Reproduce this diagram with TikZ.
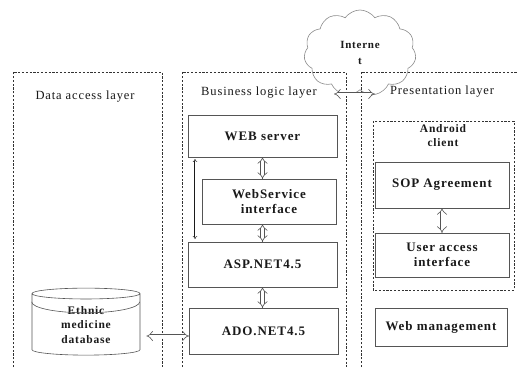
\documentclass[tikz,border=0pt]{standalone}
\usepackage{fontspec}
\setmainfont{Liberation Serif}
\usetikzlibrary{arrows.meta,positioning,calc,shapes.geometric,shapes.symbols}
\definecolor{archInk}{HTML}{1A1A1A}
\definecolor{archEdge}{HTML}{555555}
\definecolor{archDash}{HTML}{333333}
\definecolor{archCloud}{HTML}{8C8C8C}
% spaced-out lettering used for every label
\newcommand{\wide}{\addfontfeatures{LetterSpace=7}}
\tikzset{
  modbox/.style={draw=archEdge, line width=0.8pt, align=center, inner sep=2pt, outer sep=0pt,
                 font=\fontsize{13}{15.5}\selectfont\bfseries\wide, text=archInk},
  layerframe/.style={draw=archDash, dash pattern=on 2.2pt off 1.6pt, line width=0.6pt},
  layertitle/.style={font=\fontsize{12.5}{14}\selectfont\wide, text=archInk},
  hollow/.style={draw=archEdge, double=white, line width=0.6pt, double distance=3pt, {Implies}-{Implies}},
  slimarr/.style={draw=archInk, double=white, line width=0.5pt, double distance=1pt, {Implies}-{Implies}},
}

\begin{document}
\begin{tikzpicture}[x=1pt, y=-1pt]
    \useasboundingbox[fill=white] (0,0) rectangle (517,367);
    % layer frames, open at the bottom
    \draw[layerframe] (13,367) |- (162,72) -- (162,367);
    \draw[layerframe] (182,367) |- (346,72) -- (346,367);
    \draw[layerframe] (361,367) |- (525,72);
    \draw[layerframe] (373,121) rectangle (514,290);
    \node[layertitle] (dalT) at (85,97) {Data access layer};
    \node[layertitle] (bllT) at (259,93) {Business logic layer};
    \node[layertitle] (plT) at (442,92) {Presentation layer};
    % internet
    \node[cloud, cloud puffs=11, cloud puff arc=110, draw=archCloud, line width=0.6pt, minimum width=112pt, minimum height=86pt,
          align=center, font=\fontsize{11}{16}\selectfont\bfseries\wide, text=archInk] (net) at (360,53) {Interne\\t};
    \coordinate (netL) at (334,94);
    \coordinate (netR) at (375,94);
    \draw[hollow] (netL) -- (netR);
    % business logic layer
    \node[modbox, minimum width=149pt, minimum height=42pt] (web) at (262.5,136) {WEB server};
    \node[modbox, minimum width=134pt, minimum height=45pt] (ws) at (269,201.5) {WebService\\interface};
    \node[modbox, minimum width=149pt, minimum height=45pt] (asp) at (262.5,264.5) {ASP.NET4.5};
    \node[modbox, minimum width=149pt, minimum height=46pt] (ado) at (263.5,331) {ADO.NET4.5};
    \draw[hollow] (web.south) -- (web.south |- ws.north);
    \draw[hollow] (asp.north |- ws.south) -- (asp.north);
    \draw[hollow] (asp.south) -- (asp.south |- ado.north);
    \draw[slimarr, shorten <=2pt, shorten >=3pt] ([xshift=7pt]web.south west) -- ([xshift=7pt]asp.north west);
    % presentation layer
    \node[layertitle, align=center, font=\fontsize{11.5}{14}\selectfont\bfseries\wide] (andT) at (443,136) {Android\\client};
    \node[modbox, minimum width=134pt, minimum height=46pt] (sop) at (442,185) {SOP Agreement};
    \node[modbox, minimum width=134pt, minimum height=44pt] (ua) at (442,255) {User access\\interface};
    \node[modbox, minimum width=132pt, minimum height=38pt] (webm) at (441,327) {Web management};
    \draw[hollow] (sop.south) -- (ua.north);
    % data access layer
    \node[cylinder, shape border rotate=90, aspect=0.21, draw=archEdge, line width=0.6pt, minimum width=108pt, minimum height=67pt,
          align=center, inner sep=1pt, font=\fontsize{11.5}{14.5}\selectfont\bfseries\wide, text=archInk] (db) at (86,325) {Ethnic\\medicine\\database};
    \draw[archEdge, line width=0.6pt] ([yshift=-14pt]db.north -| db.west) arc[start angle=180, end angle=360, x radius=54pt, y radius=11pt];
    \draw[hollow, shorten <=6pt] (db.east |- ado.west) ++(0,5) -- ([yshift=-5pt]ado.west);
\end{tikzpicture}
\end{document}
